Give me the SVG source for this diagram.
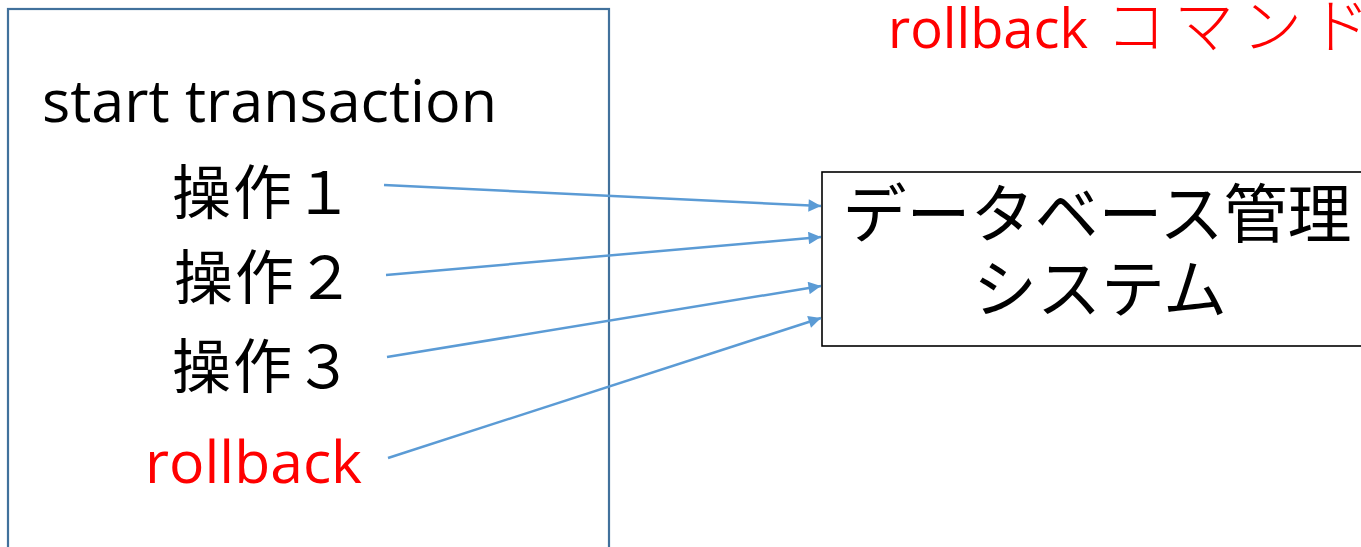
<svg xmlns="http://www.w3.org/2000/svg" width="1361" height="547" viewBox="0 0 1361 547">
<style>
.lat{font-family:"Open Sans","Noto Sans CJK JP",sans-serif;}
.jp{font-family:"Noto Sans CJK JP",sans-serif;}
.op{font-size:59px;letter-spacing:2px;}
.blk{fill:#000;}
.red{fill:#ff0000;}
.conn{stroke:#5b9bd5;stroke-width:2.5;fill:none;marker-end:url(#arr);}
</style>
<defs>
<marker id="arr" viewBox="0 0 10 10" refX="10" refY="5" markerWidth="6" markerHeight="5" markerUnits="strokeWidth" orient="auto">
<path d="M0,0 L10,5 L0,10 z" fill="#5b9bd5"/>
</marker>
</defs>
<rect width="1361" height="547" fill="#fff"/>
<g id="transaction">
<rect x="8" y="9" width="601" height="560" fill="none" stroke="#41719c" stroke-width="2.2"/>
<text class="lat blk" x="42" y="122" font-size="58" textLength="455" lengthAdjust="spacingAndGlyphs">start transaction</text>
<text class="jp blk op" x="172" y="214">操作１</text>
<text class="jp blk op" x="174" y="299">操作２</text>
<text class="jp blk op" x="172" y="388">操作３</text>
<text class="lat red" x="145" y="483" font-size="58" textLength="217" lengthAdjust="spacingAndGlyphs">rollback</text>
</g>
<g id="title">
<text class="lat red" x="888" y="48" font-size="54"><tspan textLength="200" lengthAdjust="spacingAndGlyphs">rollback</tspan><tspan class="jp" x="1106" font-size="60" font-weight="300" letter-spacing="8">コマンド</tspan></text>
</g>
<g id="dbms">
<rect x="822" y="172" width="560" height="174" fill="#fff" stroke="#000" stroke-width="1.6"/>
<text class="jp blk" x="1097" y="237" font-size="64" text-anchor="middle">データベース管理</text>
<text class="jp blk" x="1100" y="312" font-size="64" text-anchor="middle">システム</text>
</g>
<g id="connectors">
<line class="conn" x1="384" y1="185" x2="821" y2="206"/>
<line class="conn" x1="386" y1="275" x2="821" y2="237"/>
<line class="conn" x1="387" y1="357" x2="821" y2="286"/>
<line class="conn" x1="388" y1="458" x2="821" y2="318"/>
</g>
</svg>
